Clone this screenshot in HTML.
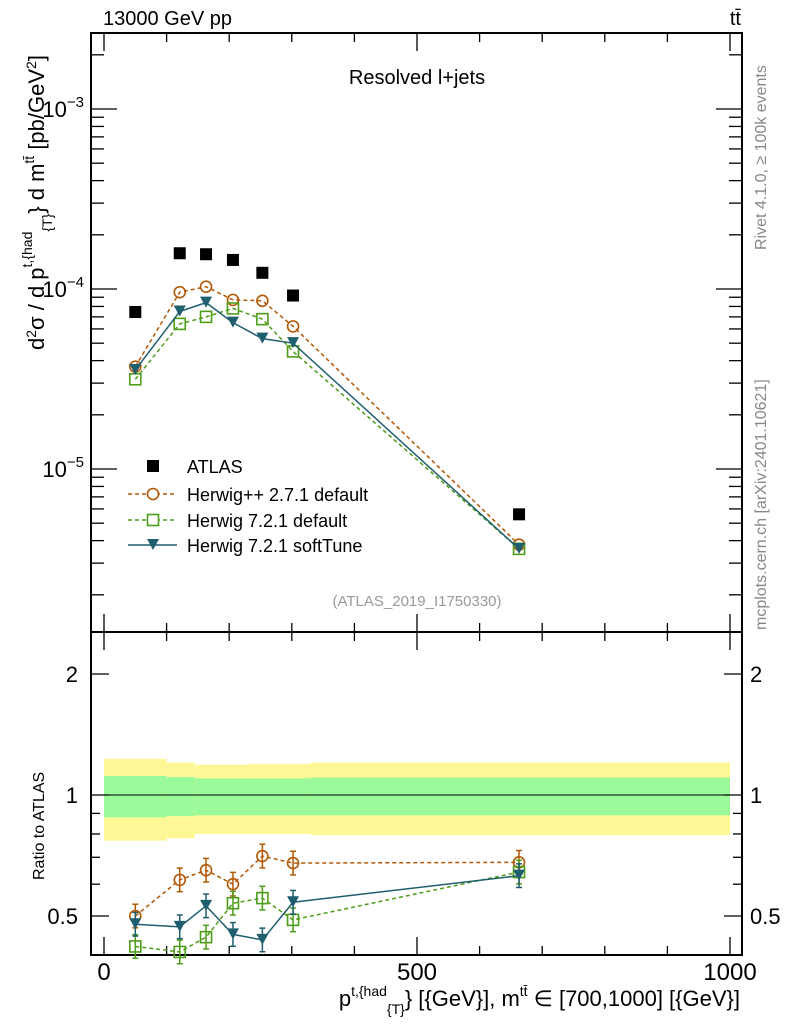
<!DOCTYPE html>
<html><head><meta charset="utf-8"><style>
body{margin:0;background:#fff;width:786px;height:1024px;overflow:hidden}
svg{font-family:"Liberation Sans",sans-serif}
</style></head><body>
<svg id="c" width="786" height="1024" xmlns="http://www.w3.org/2000/svg"></svg>
<script>
const xVals=[50,121,163,206,253,302,663];
const atlas=[7.45e-5,1.58e-4,1.56e-4,1.45e-4,1.23e-4,9.2e-5,5.6e-6];
const hpp=[3.7e-5,9.6e-5,1.03e-4,8.7e-5,8.6e-5,6.2e-5,3.8e-6];
const h72=[3.15e-5,6.4e-5,7.0e-5,7.8e-5,6.8e-5,4.5e-5,3.6e-6];
const h72s=[3.55e-5,7.5e-5,8.4e-5,6.5e-5,5.3e-5,5.0e-5,3.6e-6];
const rHpp=[0.50,0.615,0.65,0.60,0.705,0.677,0.68];
const rH72=[0.42,0.407,0.443,0.538,0.554,0.489,0.643];
const rH72s=[0.477,0.47,0.53,0.45,0.436,0.541,0.63];
const binEdges=[0,100,145,230,330,1000];
const greenHi=[1.115,1.108,1.10,1.10,1.105];
const greenLo=[0.88,0.886,0.89,0.89,0.89];
const yelHi=[1.23,1.205,1.19,1.195,1.205];
const yelLo=[0.77,0.78,0.80,0.80,0.795];
const xTicks=[0,500,1000];

const NS="http://www.w3.org/2000/svg";
const svg=document.getElementById('c');
function el(tag,attrs,parent){const e=document.createElementNS(NS,tag);for(const k in attrs)e.setAttribute(k,attrs[k]);(parent||svg).appendChild(e);return e;}
const L=91,R=742,T=33,M=632,B=955;
const X=v=>104+v*0.626;
const Y=v=>289-(Math.log10(v)+4)*180;
const RY=v=>795-Math.log10(v)*402;

// bands
for(let i=0;i<5;i++){
 const x1=X(binEdges[i]),x2=X(binEdges[i+1]);
 const y=el('rect',{x:x1,y:RY(yelHi[i]),width:x2-x1,height:RY(yelLo[i])-RY(yelHi[i]),fill:'#fdf895'});
 
 
 const g=el('rect',{x:x1,y:RY(greenHi[i]),width:x2-x1,height:RY(greenLo[i])-RY(greenHi[i]),fill:'#9afa9a'});
 
 
}
el('line',{x1:104,x2:730,y1:RY(1),y2:RY(1),stroke:'#000','stroke-width':1});

// frames
const f1=el('rect',{x:L,y:T,width:R-L,height:M-T,fill:'none',stroke:'#000','stroke-width':2});


const f2=el('rect',{x:L,y:M,width:R-L,height:B-M,fill:'none',stroke:'#000','stroke-width':2});



// x ticks
for(let v=0;v<=1000;v+=100){
 const major=v%500===0,len=major?18:9;
 for(const [yy,d] of [[T,1],[M,-1],[M,1],[B,-1]]){
  el('line',{x1:X(v),x2:X(v),y1:yy,y2:yy+d*len,stroke:'#000','stroke-width':1.3});
 }
}
xTicks.forEach(v=>{const t=el('text',{x:X(v),y:980,'font-size':24,'text-anchor':'middle'});t.textContent=v;
 
 });

// main y ticks
for(let e=-6;e<=-2;e++){for(let m=1;m<10;m++){const v=m*Math.pow(10,e);const y=Y(v);if(y<T||y>M)continue;
 const len=m===1?26:13;
 el('line',{x1:L,x2:L+len,y1:y,y2:y,stroke:'#000','stroke-width':1.3});
 el('line',{x1:R,x2:R-len,y1:y,y2:y,stroke:'#000','stroke-width':1.3});}}
[[-3],[-4],[-5]].forEach(([e])=>{const t=el('text',{x:84,y:Y(Math.pow(10,e))+8,'font-size':22,'text-anchor':'end'});
 t.innerHTML='10<tspan dy="-10" font-size="15">−'+(-e)+'</tspan>';
 
 });

// ratio y ticks
[0.4,0.5,0.6,0.7,0.8,0.9,1,2].forEach(v=>{const y=RY(v);const len=(v===1||v===2||v===0.5)?18:9;
 el('line',{x1:L,x2:L+len,y1:y,y2:y,stroke:'#000','stroke-width':1.3});
 el('line',{x1:R,x2:R-len,y1:y,y2:y,stroke:'#000','stroke-width':1.3});});
[[1,'1'],[2,'2'],[0.5,'0.5']].forEach(([v,s])=>{
 for(const side of [0,1]){const t=el('text',{x:side?750:78,y:RY(v)+8,'font-size':22,'text-anchor':side?'start':'end'});t.textContent=s;
 
 }});

// series drawing
function series(vals,yf,color,dash,marker,name,err){
 const pts=xVals.map((x,i)=>[X(x),yf(vals[i])]);
 const p=el('polyline',{points:pts.map(p=>p.join(',')).join(' '),fill:'none',stroke:color,'stroke-width':1.5,'stroke-dasharray':dash||''});
 
 
 pts.forEach(([x,y],i)=>{
  if(err){const v=vals[i];const y1=yf(v*1.07),y2=yf(v/1.07);
   el('line',{x1:x,x2:x,y1:y1,y2:y2,stroke:color,'stroke-width':1.5});
   el('line',{x1:x-3,x2:x+3,y1:y1,y2:y1,stroke:color,'stroke-width':1.5});
   el('line',{x1:x-3,x2:x+3,y1:y2,y2:y2,stroke:color,'stroke-width':1.5});}
  let m;
  if(marker==='circle')m=el('circle',{cx:x,cy:y,r:5.5,fill:'none',stroke:color,'stroke-width':1.6});
  else if(marker==='square')m=el('rect',{x:x-5.5,y:y-5.5,width:11,height:11,fill:'none',stroke:color,'stroke-width':1.6});
  else m=el('polygon',{points:`${x-6},${y-6} ${x+6},${y-6} ${x},${y+5}`,fill:color});
  
  
 });
}
xVals.forEach((x,i)=>{const s=el('rect',{x:X(x)-6,y:Y(atlas[i])-6,width:12,height:12,fill:'#000'});
 
 });
series(hpp,Y,'#b35806','4,3','circle','herwigpp',false);
series(h72,Y,'#4d9d18','4,3','square','herwig721',false);
series(h72s,Y,'#1f5e6e','','tri','herwig721-softtune',false);
series(rHpp,RY,'#b35806','4,3','circle','ratio-herwigpp',true);
series(rH72,RY,'#4d9d18','4,3','square','ratio-herwig721',true);
series(rH72s,RY,'#1f5e6e','','tri','ratio-herwig721-softtune',true);

// legend
const leg=[['ATLAS','atlas'],['Herwig++ 2.7.1 default','#b35806'],['Herwig 7.2.1 default','#4d9d18'],['Herwig 7.2.1 softTune','#1f5e6e']];
const ly=[466,494,520,545];
leg.forEach(([lab,c],i)=>{const y=ly[i];
 if(i===0)el('rect',{x:147,y:y-6,width:12,height:12,fill:'#000'});
 else{el('line',{x1:128,x2:177,y1:y,y2:y,stroke:c,'stroke-width':1.5,'stroke-dasharray':i<3?'4,3':''});
  if(i===1)el('circle',{cx:153,cy:y,r:5.5,fill:'#fff',stroke:c,'stroke-width':1.6});
  if(i===2)el('rect',{x:147.5,y:y-5.5,width:11,height:11,fill:'#fff',stroke:c,'stroke-width':1.6});
  if(i===3)el('polygon',{points:`147,${y-6} 159,${y-6} 153,${y+5}`,fill:c});}
 const t=el('text',{x:187,y:y+7,'font-size':18});t.textContent=lab;
 
 });
</script>
<svg width="786" height="1024" style="position:absolute;left:0;top:0">
<text x="103" y="25" font-size="20" font-family="Liberation Sans">13000 GeV pp</text>
<text x="741" y="25" font-size="20" font-family="Liberation Sans" text-anchor="end">tt̄</text>
<text x="417" y="84" font-size="20" font-family="Liberation Sans" text-anchor="middle">Resolved l+jets</text>
<text x="417" y="606" font-size="15" fill="#999" font-family="Liberation Sans" text-anchor="middle">(ATLAS_2019_I1750330)</text>
<text transform="translate(766,250) rotate(-90)" font-size="16" fill="#888" font-family="Liberation Sans">Rivet 4.1.0, ≥ 100k events</text>
<text transform="translate(766,630) rotate(-90)" font-size="16" fill="#888" font-family="Liberation Sans">mcplots.cern.ch [arXiv:2401.10621]</text>
<text transform="translate(44,350) rotate(-90)" font-size="22" font-family="Liberation Sans">d<tspan dy="-8" font-size="14">2</tspan><tspan dy="8">σ / d p</tspan><tspan dy="-12" font-size="14">t,{had</tspan><tspan dy="20" font-size="14">{T}</tspan><tspan dy="-8">} d m</tspan><tspan dy="-10" font-size="14">tt̄</tspan><tspan dy="10"> [pb/GeV</tspan><tspan dy="-8" font-size="14">2</tspan><tspan dy="8">]</tspan></text>
<text transform="translate(44,880) rotate(-90)" font-size="16" font-family="Liberation Sans">Ratio to ATLAS</text>
<text x="740" y="1006" font-size="22" font-family="Liberation Sans" text-anchor="end">p<tspan dy="-10" font-size="14">t,{had</tspan><tspan dy="18" font-size="14">{T}</tspan><tspan dy="-8">} [{GeV}], m</tspan><tspan dy="-10" font-size="14">tt̄</tspan><tspan dy="10"> ∈ [700,1000] [{GeV}]</tspan></text>
</svg>
</body></html>
